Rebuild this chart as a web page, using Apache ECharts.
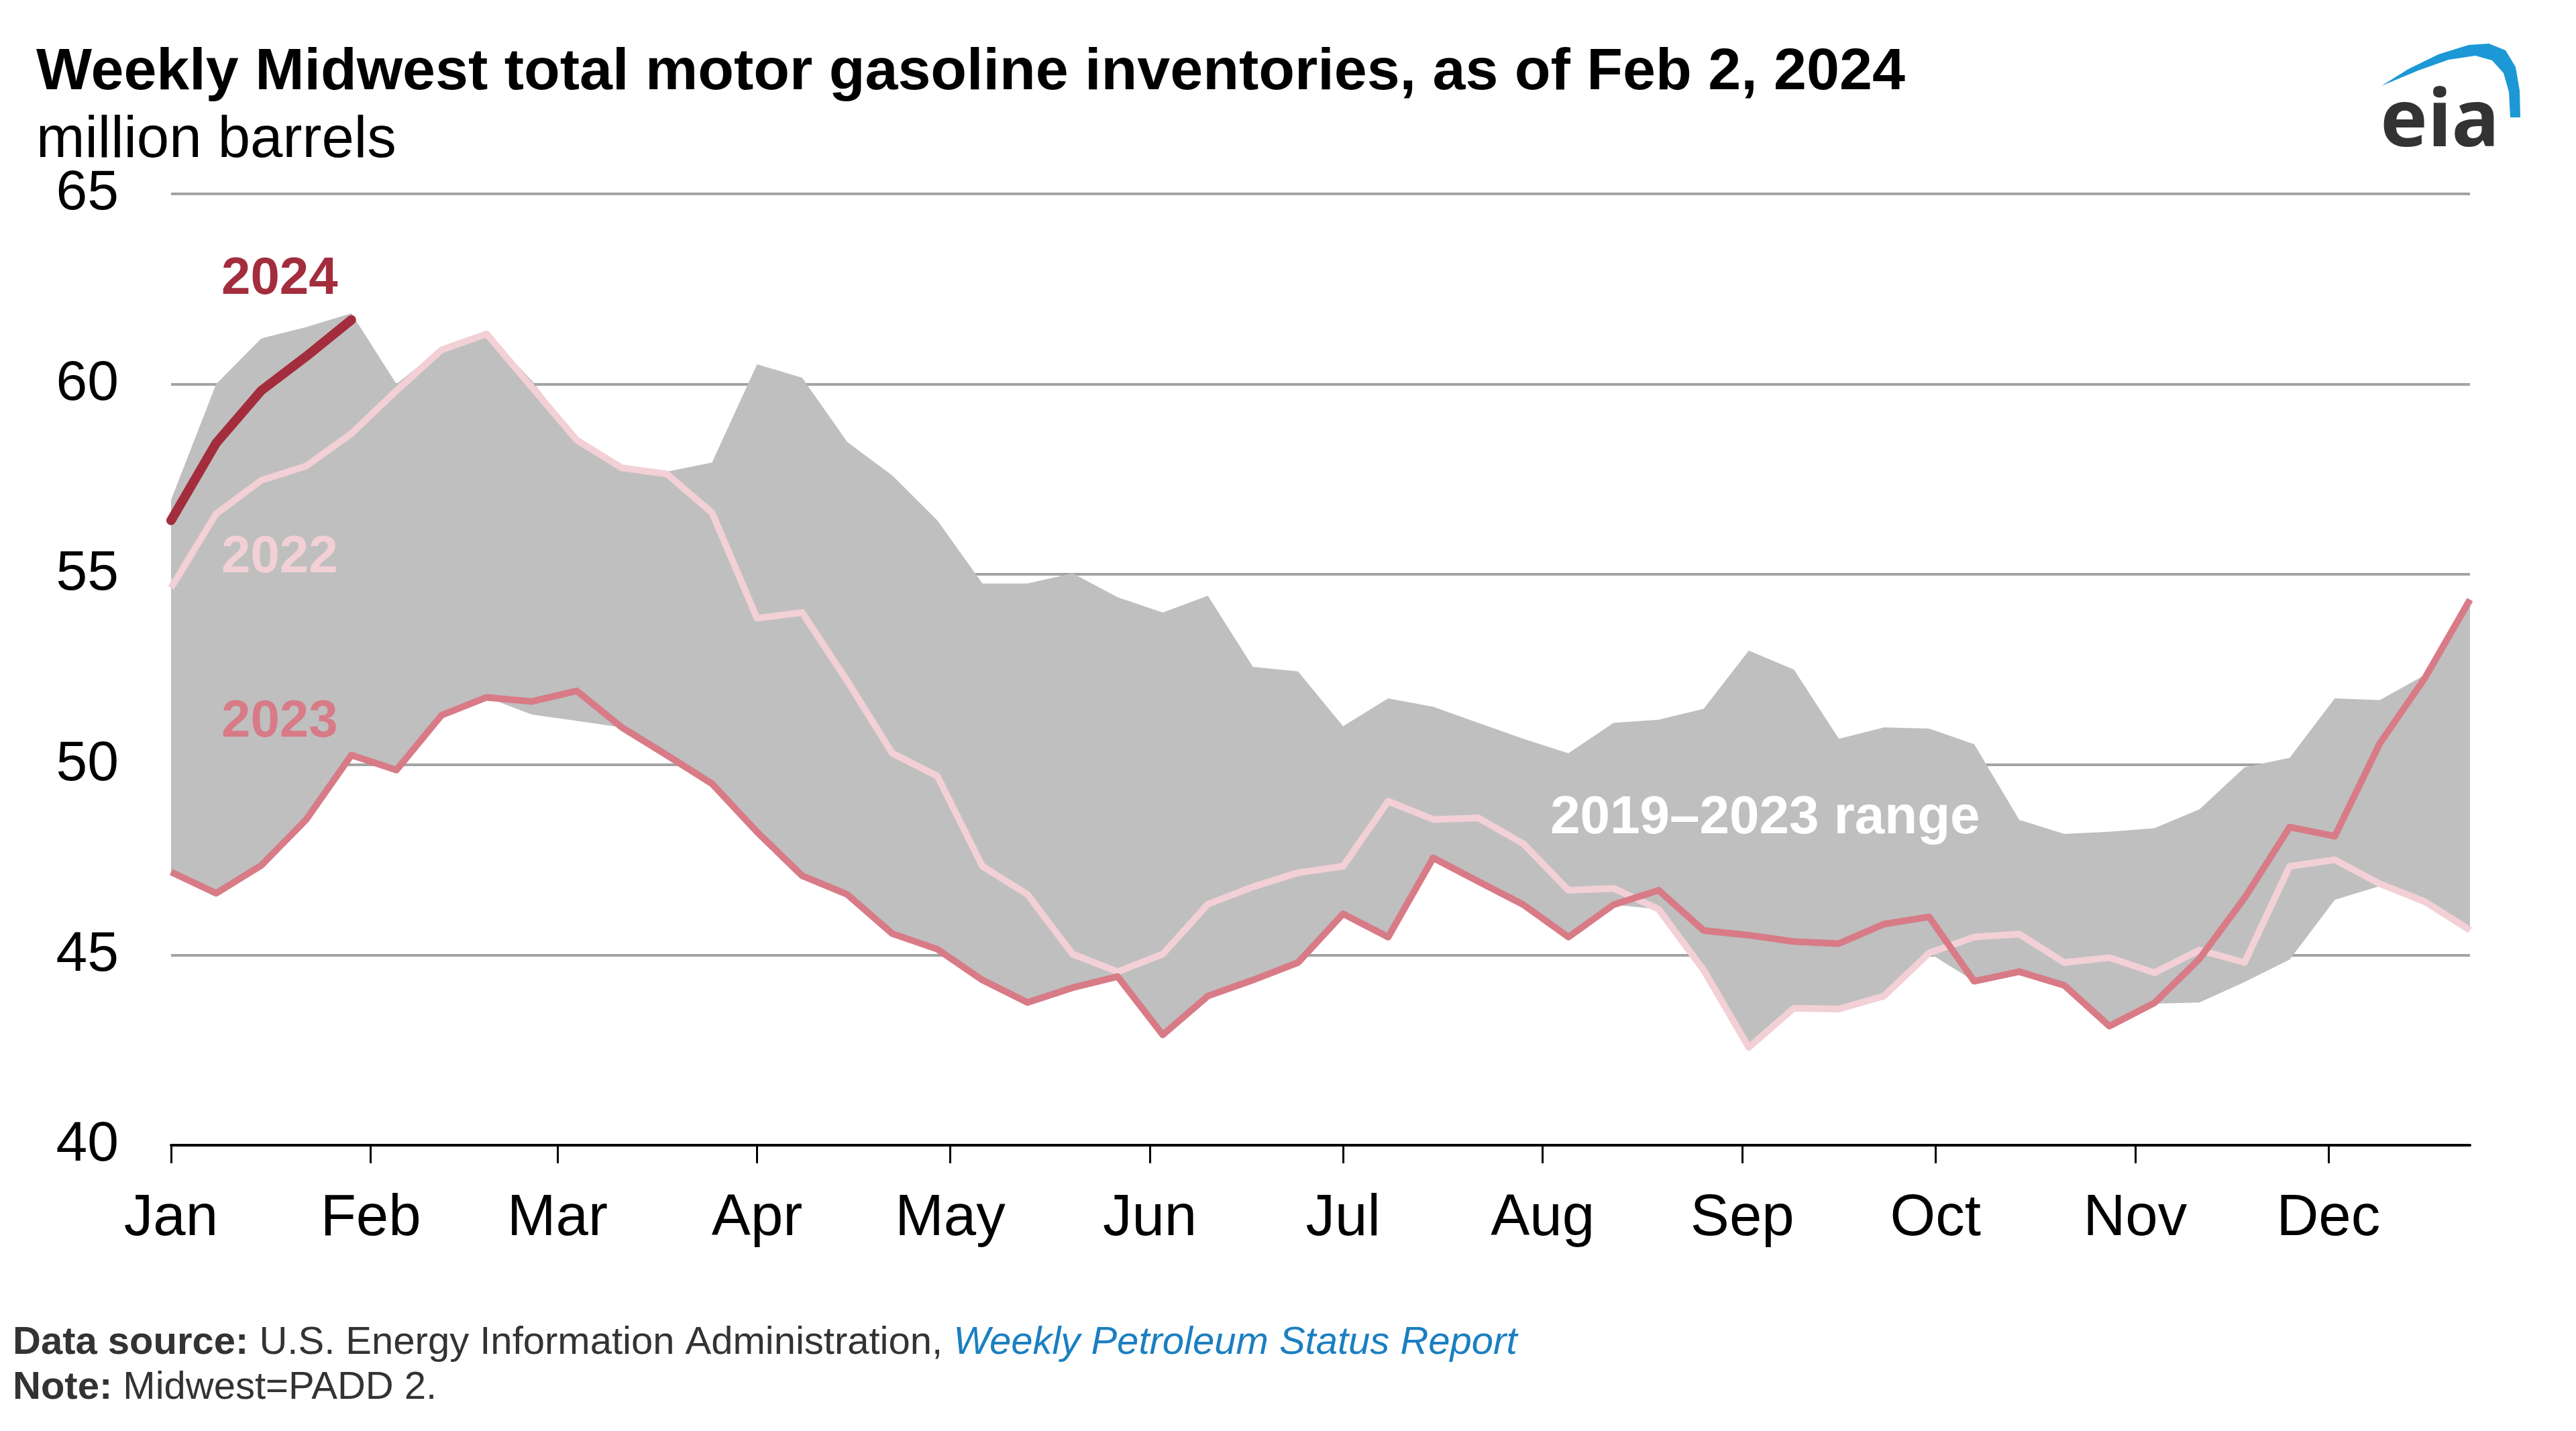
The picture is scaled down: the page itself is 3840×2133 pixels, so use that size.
<!DOCTYPE html>
<html>
<head>
<meta charset="utf-8">
<script src="https://cdn.jsdelivr.net/npm/echarts@6/dist/echarts.min.js"></script>
<style>
html,body{margin:0;padding:0;background:#fff;}
#chart{width:3840px;height:2133px;}
</style>
</head>
<body>
<div id="chart"></div>
<script>
// ---- data (million barrels, weekly) ----
const monthLabels = ['Jan','Feb','Mar','Apr','May','Jun','Jul','Aug','Sep','Oct','Nov','Dec'];
const monthStartDay = [0,31,60,91,121,152,182,213,244,274,305,335];
const yTicks = [40,45,50,55,60,65];

const rangeHigh = [56.96,60.0,61.2,61.5,61.86,60.0,60.95,61.35,60.1,58.55,57.85,57.7,
  57.94,60.52,60.17,58.48,57.6,56.42,54.76,54.76,55.03,54.4,54.0,54.44,52.57,52.45,
  51.01,51.74,51.52,51.1,50.68,50.3,51.1,51.18,51.47,53.0,52.5,50.68,50.98,50.95,
  50.54,48.55,48.18,48.24,48.33,48.83,49.93,50.18,51.74,51.7,52.36,54.34];
const rangeLow = [47.18,46.62,47.35,48.56,50.25,49.86,51.3,51.77,51.32,51.15,50.98,50.25,
  49.5,48.23,47.08,46.59,45.56,45.15,44.34,43.75,44.14,44.43,42.9,43.92,44.34,44.8,
  46.08,45.47,47.55,46.93,46.32,45.47,46.32,46.2,44.6,42.57,43.58,43.58,43.92,45.05,
  44.31,44.56,44.17,43.12,43.72,43.75,44.29,44.88,46.45,46.81,46.37,45.64];
const y2022 = [54.65,56.59,57.47,57.85,58.7,59.83,60.9,61.32,59.92,58.53,57.8,57.64,
  56.62,53.85,54.0,52.2,50.3,49.7,47.33,46.59,45.02,44.56,45.02,46.33,46.79,47.16,
  47.33,49.04,48.56,48.6,47.92,46.7,46.75,46.2,44.6,42.57,43.6,43.58,43.92,45.05,
  45.47,45.55,44.8,44.93,44.53,45.13,44.8,47.33,47.5,46.87,46.4,45.65];
const y2023 = [47.18,46.62,47.35,48.56,50.25,49.86,51.3,51.77,51.66,51.94,50.98,50.25,
  49.5,48.23,47.08,46.59,45.56,45.15,44.34,43.75,44.14,44.43,42.9,43.92,44.34,44.8,
  46.08,45.47,47.55,46.93,46.32,45.47,46.32,46.7,45.64,45.52,45.35,45.3,45.81,46.0,
  44.31,44.56,44.2,43.13,43.74,44.9,46.5,48.36,48.12,50.56,52.28,54.34];
const y2024 = [56.42,58.45,59.83,60.73,61.69];

// week position in days from Jan 1
const weekDay = rangeHigh.map((_, i) => i * 7);

const FONT = "'Liberation Sans', Arial, sans-serif";
const toPairs = arr => arr.map((v, i) => [weekDay[i], v]);

const chart = echarts.init(document.getElementById('chart'), null, {renderer: 'canvas'});

const option = {
  backgroundColor: '#ffffff',
  animation: false,
  grid: {left: 255, right: 158, top: 289, bottom: 426, containLabel: false},
  xAxis: {
    type: 'value',
    min: 0,
    max: weekDay[weekDay.length - 1],
    splitLine: {show: false},
    axisLine: {show: true, lineStyle: {color: '#000', width: 4}},
    axisTick: {show: true, customValues: monthStartDay, length: 27, lineStyle: {color: '#000', width: 3}},
    axisLabel: {
      show: true,
      customValues: monthStartDay,
      margin: 67,
      fontSize: 87,
      fontFamily: FONT,
      color: '#000',
      formatter: v => monthLabels[monthStartDay.indexOf(v)]
    }
  },
  yAxis: {
    type: 'value',
    min: yTicks[0],
    max: yTicks[yTicks.length - 1],
    interval: 5,
    axisLine: {show: false},
    axisTick: {show: false},
    splitLine: {show: true, lineStyle: {color: '#a3a3a3', width: 4}},
    axisLabel: {fontSize: 84, fontFamily: FONT, color: '#000', margin: 78}
  },
  series: [
    {
      type: 'custom',
      name: '2019–2023 range',
      silent: true,
      z: 1,
      data: rangeLow.map((v, i) => [weekDay[i], v, rangeHigh[i]]),
      encode: {x: 0, y: [1, 2]},
      renderItem: function (params, api) {
        if (params.dataIndex !== 0) return null;
        const top = rangeHigh.map((v, i) => api.coord([weekDay[i], v]));
        const bot = rangeLow.map((v, i) => api.coord([weekDay[i], v])).reverse();
        return {type: 'polygon', shape: {points: top.concat(bot)}, style: {fill: '#bfbfbf'}};
      }
    },
    {
      type: 'line', name: '2022', data: toPairs(y2022), showSymbol: false, z: 3,
      lineStyle: {color: '#f2d0d6', width: 10, join: 'round'}
    },
    {
      type: 'line', name: '2023', data: toPairs(y2023), showSymbol: false, z: 4,
      lineStyle: {color: '#d87b87', width: 10, join: 'round'}
    },
    {
      type: 'line', name: '2024', data: toPairs(y2024), showSymbol: false, z: 5,
      lineStyle: {color: '#a32d3d', width: 14, cap: 'round', join: 'round'}
    }
  ],
  graphic: [
    {type: 'text', z: 100, left: 54, top: 65, style: {text: 'Weekly Midwest total motor gasoline inventories, as of Feb 2, 2024',
      font: "bold 88px 'Liberation Sans', Arial, sans-serif", fill: '#000'}},
    {type: 'text', z: 100, left: 54, top: 167, style: {text: 'million barrels',
      font: "87px 'Liberation Sans', Arial, sans-serif", fill: '#000'}},
    {type: 'text', z: 100, left: 330, top: 377, style: {text: '2024',
      font: "bold 78px 'Liberation Sans', Arial, sans-serif", fill: '#a32d3d'}},
    {type: 'text', z: 100, left: 330, top: 792, style: {text: '2022',
      font: "bold 78px 'Liberation Sans', Arial, sans-serif", fill: '#f2d0d6'}},
    {type: 'text', z: 100, left: 330, top: 1037, style: {text: '2023',
      font: "bold 78px 'Liberation Sans', Arial, sans-serif", fill: '#d87b87'}},
    {type: 'text', z: 100, left: 2311, top: 1180, style: {text: '2019–2023 range',
      font: "bold 80px 'Liberation Sans', Arial, sans-serif", fill: '#ffffff'}},
    {type: 'text', z: 100, left: 19, top: 1973, style: {
      text: '{b|Data source:} U.S. Energy Information Administration, {l|Weekly Petroleum Status Report}',
      font: "58px 'Liberation Sans', Arial, sans-serif", fill: '#333',
      rich: {
        b: {fontWeight: 'bold', fontSize: 58, fontFamily: FONT, fill: '#333'},
        l: {fontStyle: 'italic', fontSize: 58, fontFamily: FONT, fill: '#1b7fc1'}
      }}},
    {type: 'text', z: 100, left: 19, top: 2040, style: {
      text: '{b|Note:} Midwest=PADD 2.',
      font: "58px 'Liberation Sans', Arial, sans-serif", fill: '#333',
      rich: {b: {fontWeight: 'bold', fontSize: 58, fontFamily: FONT, fill: '#333'}}}},
    {type: 'polygon', z: 100, x: 3550, y: 65,
      shape: {points: [[0,63],[40,38],[85,16],[130,2],[160,0],[185,10],[200,35],[206,70],[207,110],
                       [192,110],[190,72],[182,44],[165,25],[140,18],[100,24],[55,40]]},
      style: {fill: '#1b98d5'}},
    {type: 'text', z: 101, left: 3548, top: 125, style: {text: 'eia',
      font: "bold 119px 'Noto Sans', 'DejaVu Sans', sans-serif", fill: '#333333'}}
  ]
};

chart.setOption(option);
</script>
</body>
</html>
